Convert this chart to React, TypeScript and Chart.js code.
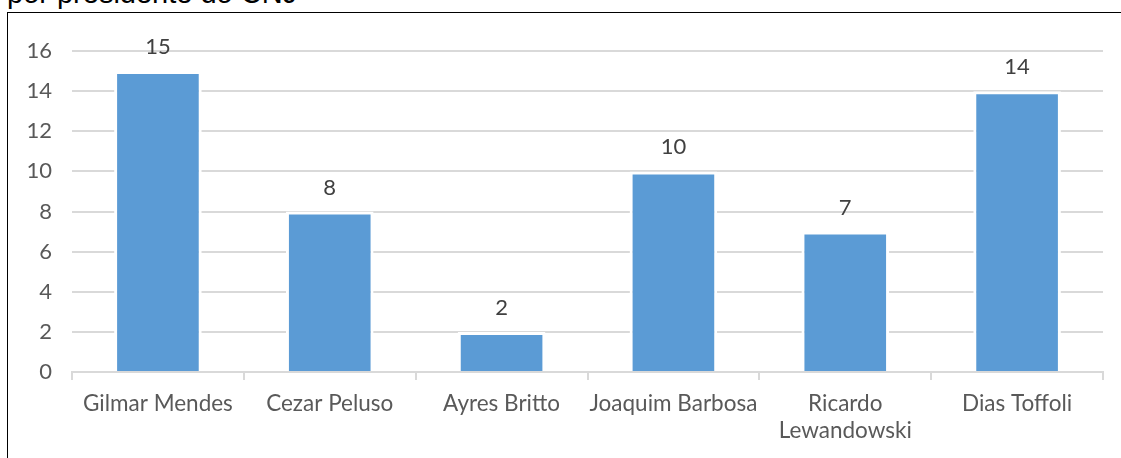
import React, { useEffect, useRef } from "react";
import { Chart, registerables } from "chart.js";

Chart.register(...registerables);

const categories: (string | string[])[] = [
  "Gilmar Mendes",
  "Cezar Peluso",
  "Ayres Britto",
  "Joaquim Barbosa",
  ["Ricardo", "Lewandowski"],
  "Dias Toffoli",
];
const values: number[] = [15, 8, 2, 10, 7, 14];
const yMax = 16;
const yStep = 2;
const titleText = "por presidente do CNJ";

const FONT = "Lato, 'Noto Sans', sans-serif";

const dataLabels = {
  id: "dataLabels",
  afterDatasetsDraw(chart: any) {
    const ctx = chart.ctx;
    const meta = chart.getDatasetMeta(0);
    ctx.save();
    ctx.font = `22px ${FONT}`;
    ctx.fillStyle = "#404040";
    ctx.textAlign = "center";
    ctx.textBaseline = "alphabetic";
    meta.data.forEach((bar: any, i: number) => {
      ctx.fillText(String(values[i]), bar.x, bar.y - 17);
    });
    ctx.restore();
  },
};

export default function App() {
  const ref = useRef<HTMLCanvasElement | null>(null);
  useEffect(() => {
    if (!ref.current) return;
    const chart = new Chart(ref.current, {
      type: "bar",
      data: {
        labels: categories,
        datasets: [
          {
            data: values,
            backgroundColor: "#5b9bd5",
            borderColor: "#ffffff",
            borderWidth: 3,
            barPercentage: 0.51,
            categoryPercentage: 1,
          },
        ],
      },
      options: {
        animation: false,
        responsive: false,
        maintainAspectRatio: false,
        layout: { padding: { top: 51, right: 18, left: 0, bottom: 0 } },
        plugins: {
          legend: { display: false },
          tooltip: { enabled: false },
          title: { display: false },
        },
        scales: {
          x: {
            offset: true,
            afterFit: (s: any) => {
              s.height = 86;
            },
            grid: {
              drawOnChartArea: false,
              drawTicks: true,
              tickLength: 8,
              color: "#d9d9d9",
              lineWidth: 2,
            },
            border: { display: true, color: "#d9d9d9", width: 2 },
            ticks: {
              color: "#595959",
              font: { family: FONT, size: 22.5, lineHeight: 1.17 },
              padding: 11,
              maxRotation: 0,
              autoSkip: false,
            },
          },
          y: {
            min: 0,
            max: yMax,
            afterFit: (s: any) => {
              s.width = 72;
            },
            grid: {
              drawTicks: false,
              color: "#d9d9d9",
              lineWidth: 2,
            },
            border: { display: false },
            ticks: {
              stepSize: yStep,
              color: "#595959",
              font: { family: FONT, size: 22 },
              padding: 20,
            },
          },
        },
      },
      plugins: [dataLabels],
    });
    return () => chart.destroy();
  }, []);

  return (
    <div
      style={{
        position: "fixed",
        left: 0,
        top: 0,
        width: 1121,
        height: 458,
        overflow: "hidden",
        background: "#ffffff",
      }}
    >
      <div
        style={{
          position: "absolute",
          left: 7,
          top: 12,
          width: 1300,
          height: 600,
          border: "1px solid #000000",
          boxSizing: "border-box",
        }}
      />
      <div
        style={{
          position: "absolute",
          left: 7,
          top: -24,
          fontFamily: "'Liberation Sans', Arial, sans-serif",
          fontSize: 29,
          lineHeight: "34px",
          color: "#000000",
          whiteSpace: "nowrap",
        }}
      >
        {titleText}
      </div>
      <canvas
        ref={ref}
        width={1121}
        height={458}
        style={{ position: "absolute", left: 0, top: 0, width: 1121, height: 458 }}
      />
    </div>
  );
}
